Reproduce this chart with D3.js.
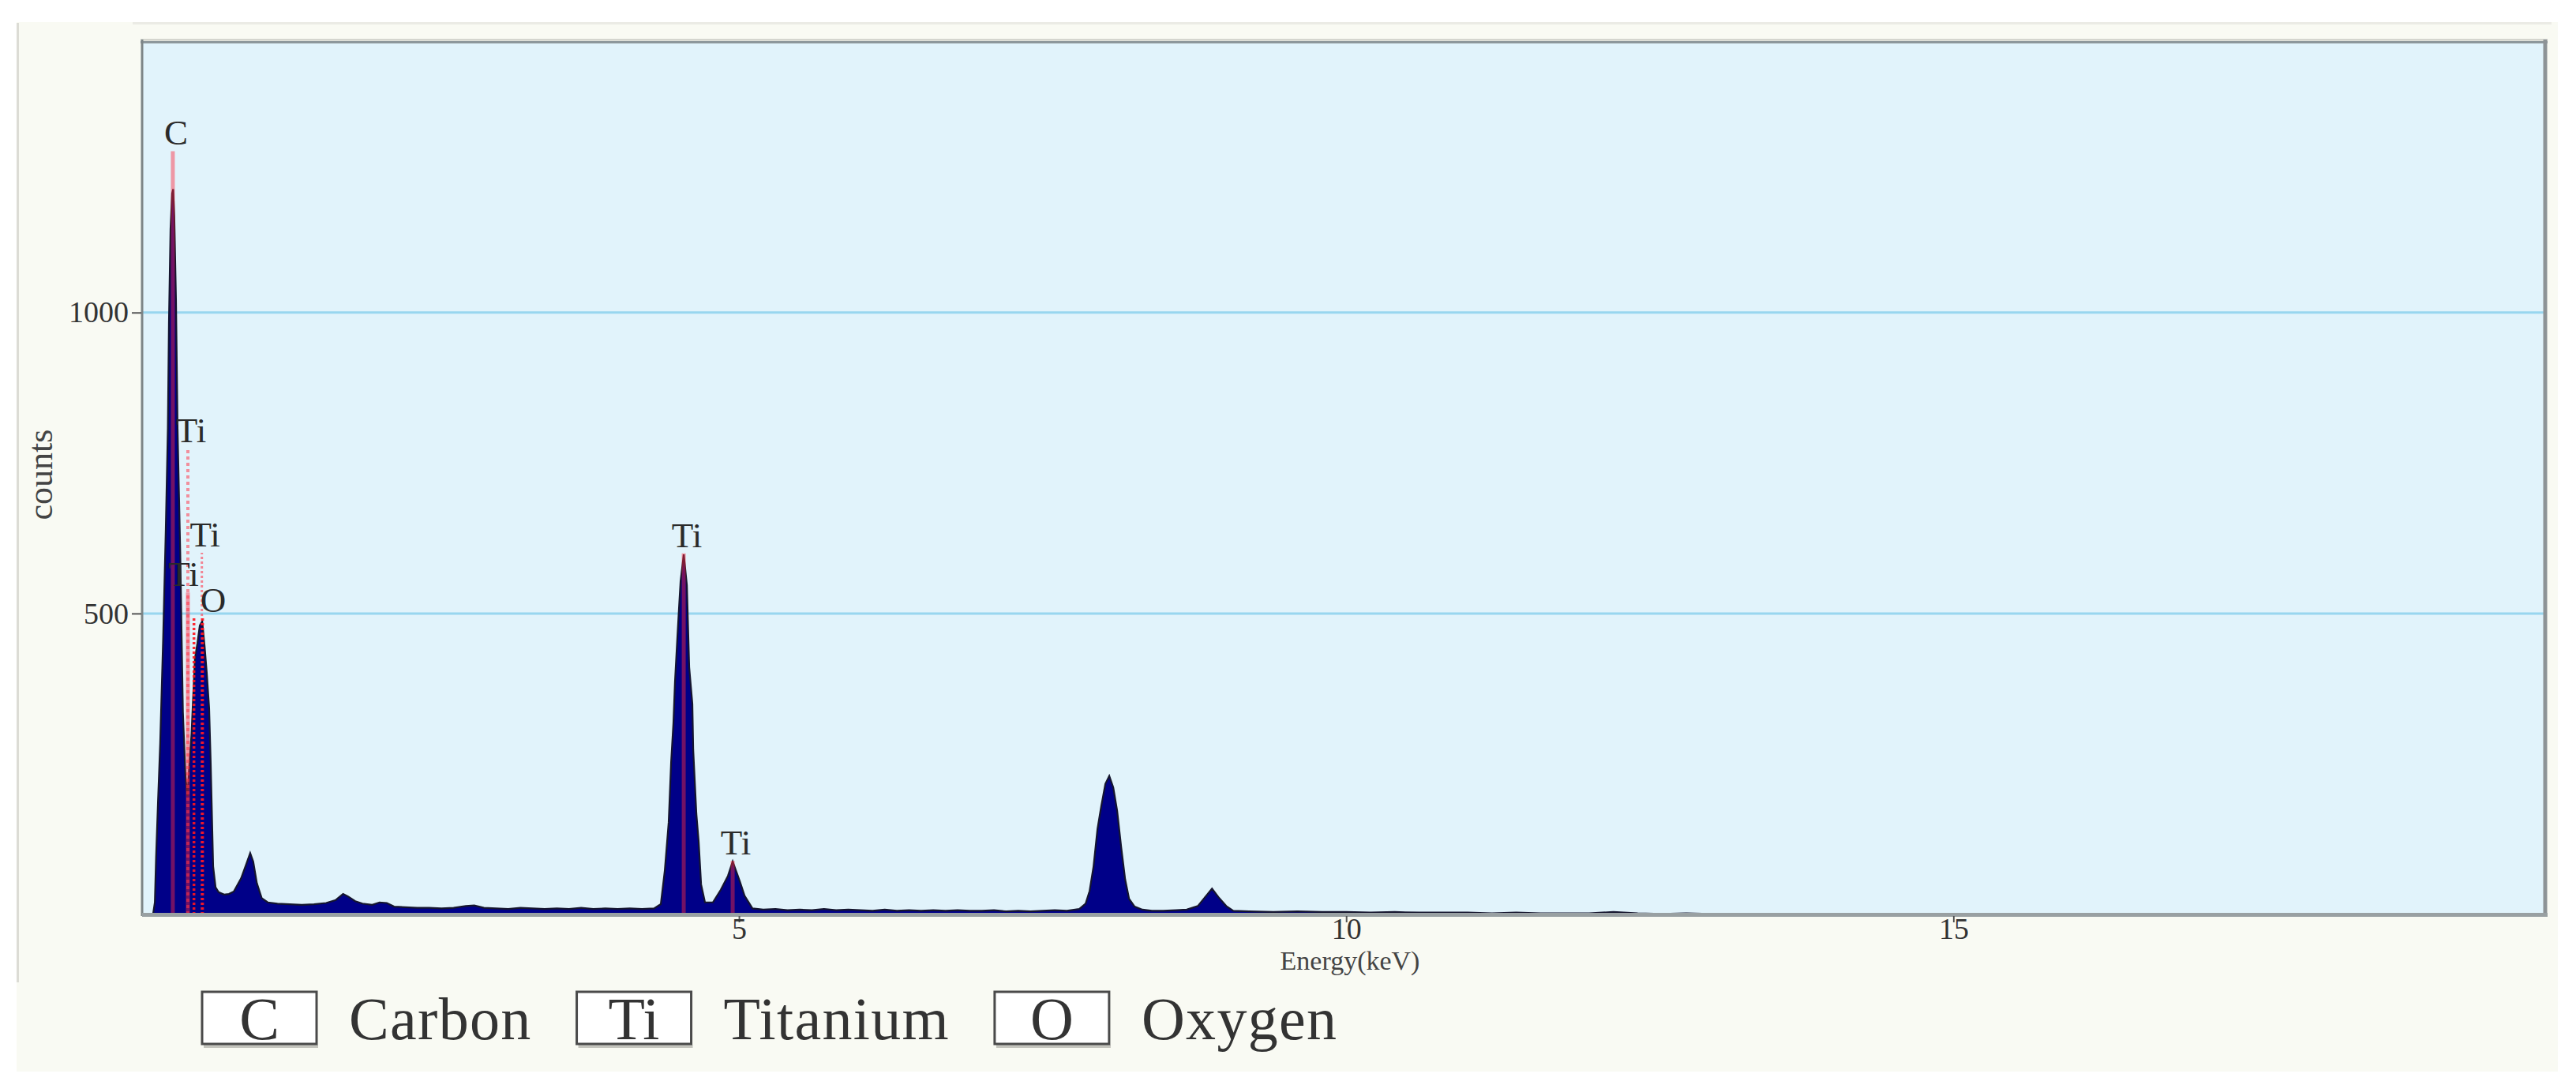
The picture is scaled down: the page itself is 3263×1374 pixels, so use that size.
<!DOCTYPE html>
<html>
<head>
<meta charset="utf-8">
<script src="https://cdn.jsdelivr.net/npm/d3@7"></script>
<style>
  html, body { margin: 0; padding: 0; background: #ffffff; }
  svg { display: block; }
  text { font-family: "Liberation Serif", "Times New Roman", serif; }
</style>
</head>
<body>
<svg id="chart" width="3263" height="1374"></svg>
<script>
// ---------------- data ----------------
const energy = [
  0.085, 0.175, 0.190, 0.200, 0.215, 0.234, 0.258, 0.280, 0.297, 0.306, 0.319, 0.332, 0.341, 0.350,
  0.364, 0.377, 0.399, 0.421, 0.442, 0.458, 0.475, 0.492, 0.505, 0.520, 0.540, 0.560, 0.580, 0.600,
  0.618, 0.637, 0.650, 0.670, 0.690, 0.715, 0.760, 0.800, 0.840, 0.900, 0.940, 0.975, 1.000, 1.030,
  1.070, 1.120, 1.200, 1.300, 1.400, 1.500, 1.600, 1.680, 1.740, 1.780, 1.840, 1.900, 1.980,
  2.040, 2.100, 2.160, 2.250, 2.350, 2.450, 2.550, 2.650, 2.750, 2.820, 2.900, 3.000, 3.100, 3.200,
  3.300, 3.400, 3.500, 3.600, 3.700, 3.800, 3.900, 4.000, 4.100, 4.200, 4.300,
  4.356, 4.389, 4.421, 4.441, 4.460, 4.473, 4.493, 4.506, 4.519, 4.545, 4.571, 4.590, 4.616, 4.623,
  4.649, 4.668, 4.688, 4.720, 4.785, 4.850, 4.909, 4.948, 5.007, 5.046, 5.111,
  5.200, 5.300, 5.400, 5.500, 5.600, 5.700, 5.800, 5.900, 6.000, 6.100, 6.200, 6.300, 6.400, 6.500,
  6.600, 6.700, 6.800, 6.900, 7.000, 7.100, 7.200, 7.300, 7.400, 7.500, 7.600, 7.700,
  7.802, 7.854, 7.887, 7.919, 7.952, 7.984, 8.017, 8.049, 8.082, 8.114, 8.147, 8.180, 8.212, 8.258,
  8.322, 8.400, 8.492, 8.600, 8.687, 8.778, 8.843, 8.895, 8.947, 9.012, 9.070,
  9.200, 9.400, 9.600, 9.800, 10.00, 10.20, 10.40, 10.60, 10.80, 11.00, 11.20, 11.40, 11.60, 11.80,
  12.00, 12.20, 12.40, 12.60, 12.80, 13.00, 13.40, 13.80, 14.20, 14.60, 15.00, 15.40, 15.80, 16.20,
  16.60, 17.00, 17.40, 17.80, 18.20, 18.60, 19.00, 19.40, 19.86
];
const counts = [
  0, 0, 20, 95, 182, 285, 457, 640, 808, 984, 1139, 1198, 1205, 1160,
  1022, 808, 602, 336, 230, 197, 251, 300, 360, 425, 450, 480, 487, 445,
  400, 343, 251, 80, 45, 37, 33, 34, 38, 60, 82, 102, 88, 52,
  27, 20, 18, 17, 16, 17, 19, 24, 34, 30, 22, 18, 16,
  20, 19, 13, 12, 11, 11, 10, 11, 14, 15, 11, 10, 9, 11,
  10, 9, 10, 9, 11, 9, 10, 9, 10, 9, 10,
  17, 73, 153, 252, 318, 387, 462, 509, 554, 598, 547, 411, 350, 274,
  167, 121, 50, 20, 20, 41, 64, 88, 55, 31, 10,
  8, 9, 7, 8, 7, 9, 7, 8, 7, 6, 8, 6, 7, 6,
  7, 6, 7, 6, 6, 7, 5, 6, 5, 6, 7, 6,
  9, 18, 39, 79, 142, 181, 217, 230, 211, 172, 112, 58, 26, 13,
  8, 6, 6, 7, 8, 14, 30, 43, 29, 14, 6,
  5, 4, 5, 4, 4, 3, 4, 3, 3, 3, 2, 3, 2, 2,
  2, 4, 2, 1, 2, 1, 1, 1, 1, 1, 1, 1, 1, 1,
  1, 1, 1, 1, 1, 1, 1, 1, 0
];

// characteristic-line markers
const markerEnergy = [0.338, 0.462, 0.462, 0.512, 0.577, 0.583, 4.545, 4.948];
const markerTop    = [1268, 774, 535, 492, 601, 492, 600, 89];
const markerStyle  = ["solid", "dashed", "solid", "dotred", "dotted", "dotred", "solid", "solid"];
const markerLabel  = ["C", "Ti", "Ti", "", "Ti", "O", "Ti", "Ti"];

const yTicks = [500, 1000];
const xTicks = [5, 10, 15];
const xTitle = "Energy(keV)";
const yTitle = "counts";

const legendSymbols = ["C", "Ti", "O"];
const legendNames = ["Carbon", "Titanium", "Oxygen"];

// ---------------- layout ----------------
const svg = d3.select("#chart");
const P = { left: 180, right: 3222, top: 52, bottom: 1158 };

const x = d3.scaleLinear().domain([0.085, 19.86]).range([P.left, P.right]);
const y = d3.scaleLinear().domain([0, 1451]).range([P.bottom, P.top]);

// outer panel
svg.append("rect").attr("x", 21).attr("y", 28).attr("width", 3219).attr("height", 1329)
  .attr("fill", "#f9faf3");
svg.append("line").attr("x1", 168).attr("x2", 3232).attr("y1", 29.5).attr("y2", 29.5)
  .attr("stroke", "#ebebe5").attr("stroke-width", 3);
svg.append("line").attr("x1", 22.5).attr("x2", 22.5).attr("y1", 29).attr("y2", 1244)
  .attr("stroke", "#dcdcd5").attr("stroke-width", 3);

// plot background
svg.append("rect").attr("x", P.left).attr("y", P.top)
  .attr("width", P.right - P.left).attr("height", P.bottom - P.top)
  .attr("fill", "#e1f3fb");

// gridlines
svg.append("g").selectAll("line").data(yTicks).join("line")
  .attr("x1", P.left).attr("x2", P.right)
  .attr("y1", d => y(d)).attr("y2", d => y(d))
  .attr("stroke", "#98d6ef").attr("stroke-width", 3);

// clip
svg.append("clipPath").attr("id", "plotclip").append("rect")
  .attr("x", P.left).attr("y", P.top).attr("width", P.right - P.left).attr("height", P.bottom - P.top);

const pts = energy.map((e, i) => [e, counts[i]]);
const area = d3.area().x(d => x(d[0])).y0(y(0)).y1(d => y(d[1]));
const line = d3.line().x(d => x(d[0])).y(d => y(d[1]));

const g = svg.append("g").attr("clip-path", "url(#plotclip)");
g.append("path").datum(pts).attr("d", area).attr("fill", "#000088");
g.append("path").datum(pts).attr("d", line).attr("fill", "none")
  .attr("stroke", "#15152e").attr("stroke-width", 2.2);

// markers
const mk = markerEnergy.map((e, i) => ({ e, top: markerTop[i], style: markerStyle[i], label: markerLabel[i] }));
const styleOf = {
  solid:  { color: "rgb(255,40,60)", op: 0.45, w: 5, dash: null },
  dashed: { color: "rgb(255,60,80)", op: 0.55, w: 4, dash: "4,4" },
  dotted: { color: "rgb(255,60,80)", op: 0.6,  w: 3, dash: "3,3" },
  dotred: { color: "rgb(255,20,30)", op: 0.9,  w: 3.5, dash: "3,3" }
};
g.append("g").selectAll("line").data(mk).join("line")
  .attr("x1", d => x(d.e)).attr("x2", d => x(d.e))
  .attr("y1", y(0)).attr("y2", d => y(d.top))
  .attr("stroke", d => styleOf[d.style].color)
  .attr("stroke-opacity", d => styleOf[d.style].op)
  .attr("stroke-width", d => styleOf[d.style].w)
  .attr("stroke-dasharray", d => styleOf[d.style].dash);

const labels = svg.append("g").selectAll("text").data(mk.filter(d => d.label)).join("text")
  .attr("x", d => x(d.e) + 4).attr("y", d => y(d.top) - 8)
  .attr("text-anchor", "middle")
  .attr("font-size", 45).attr("fill", "#2a2a2a")
  .text(d => d.label);

// nudge overlapping labels apart horizontally
(function declutter() {
  const nodes = labels.nodes();
  for (let iter = 0; iter < 20; iter++) {
    let moved = false;
    for (let i = 0; i < nodes.length; i++) {
      for (let j = i + 1; j < nodes.length; j++) {
        const a = nodes[i].getBBox(), b = nodes[j].getBBox();
        const ox = Math.min(a.x + a.width, b.x + b.width) - Math.max(a.x, b.x);
        const oy = Math.min(a.y + a.height, b.y + b.height) - Math.max(a.y, b.y);
        if (ox > 0 && oy > 0) {
          const shift = ox / 2 + 1;
          const left = a.x < b.x ? nodes[i] : nodes[j];
          const right = left === nodes[i] ? nodes[j] : nodes[i];
          left.setAttribute("x", +left.getAttribute("x") - shift);
          right.setAttribute("x", +right.getAttribute("x") + shift);
          moved = true;
        }
      }
    }
    if (!moved) break;
  }
})();

// frame borders
svg.append("line").attr("x1", P.left - 2).attr("x2", P.right + 5).attr("y1", 50.5).attr("y2", 50.5)
  .attr("stroke", "#c9cac3").attr("stroke-width", 2);
svg.append("line").attr("x1", P.left - 2).attr("x2", P.right + 5).attr("y1", 53.5).attr("y2", 53.5)
  .attr("stroke", "#8d979b").attr("stroke-width", 3);
svg.append("line").attr("x1", P.left).attr("x2", P.left).attr("y1", 50).attr("y2", P.bottom + 2)
  .attr("stroke", "#7d8587").attr("stroke-width", 3);
svg.append("line").attr("x1", P.right + 2).attr("x2", P.right + 2).attr("y1", 50).attr("y2", P.bottom + 3)
  .attr("stroke", "#8d9396").attr("stroke-width", 5);
svg.append("line").attr("x1", P.left).attr("x2", P.right + 5).attr("y1", P.bottom + 0.5).attr("y2", P.bottom + 0.5)
  .attr("stroke", "#99a0a2").attr("stroke-width", 5);

// axes
const yAxis = svg.append("g").attr("transform", `translate(${P.left - 1},0)`)
  .call(d3.axisLeft(y).tickValues(yTicks).tickSize(12).tickPadding(4).tickFormat(d3.format("d")));
const xAxis = svg.append("g").attr("transform", `translate(0,${P.bottom + 2})`)
  .call(d3.axisBottom(x).tickValues(xTicks).tickSize(8).tickPadding(-6).tickFormat(d3.format("d")));
[yAxis, xAxis].forEach(a => {
  a.select(".domain").remove();
  a.selectAll(".tick line").attr("stroke", "#555").attr("stroke-width", 2);
  a.selectAll(".tick text").attr("font-size", 38).attr("fill", "#333")
    .attr("font-family", "'Liberation Serif', 'Times New Roman', serif");
});

// axis titles
svg.append("text").attr("x", 1710).attr("y", 1228).attr("text-anchor", "middle")
  .attr("font-size", 34).attr("fill", "#444").text(xTitle);
svg.append("text").attr("transform", "translate(66,601) rotate(-90)").attr("text-anchor", "middle")
  .attr("font-size", 44).attr("fill", "#444").text(yTitle);

// legend
const leg = svg.append("g");
let lx = 256;
const boxW = 145, boxH = 66, boxY = 1256;
legendSymbols.forEach((s, i) => {
  const item = leg.append("g");
  item.append("line").attr("x1", lx + 2).attr("x2", lx + boxW + 2)
    .attr("y1", boxY + boxH + 3).attr("y2", boxY + boxH + 3)
    .attr("stroke", "#c4c4bd").attr("stroke-width", 4);
  item.append("rect").attr("x", lx).attr("y", boxY).attr("width", boxW).attr("height", boxH)
    .attr("fill", "#ffffff").attr("stroke", "#4a4a4a").attr("stroke-width", 3);
  item.append("text").attr("x", lx + boxW / 2).attr("y", boxY + 60).attr("text-anchor", "middle")
    .attr("font-size", 76).attr("fill", "#333").text(s);
  const t = item.append("text").attr("x", lx + boxW + 41).attr("y", boxY + 60)
    .attr("font-size", 76).attr("letter-spacing", 1.3).attr("fill", "#333").text(legendNames[i]);
  lx = lx + boxW + 41 + t.node().getComputedTextLength() + 57;
});
</script>
</body>
</html>
